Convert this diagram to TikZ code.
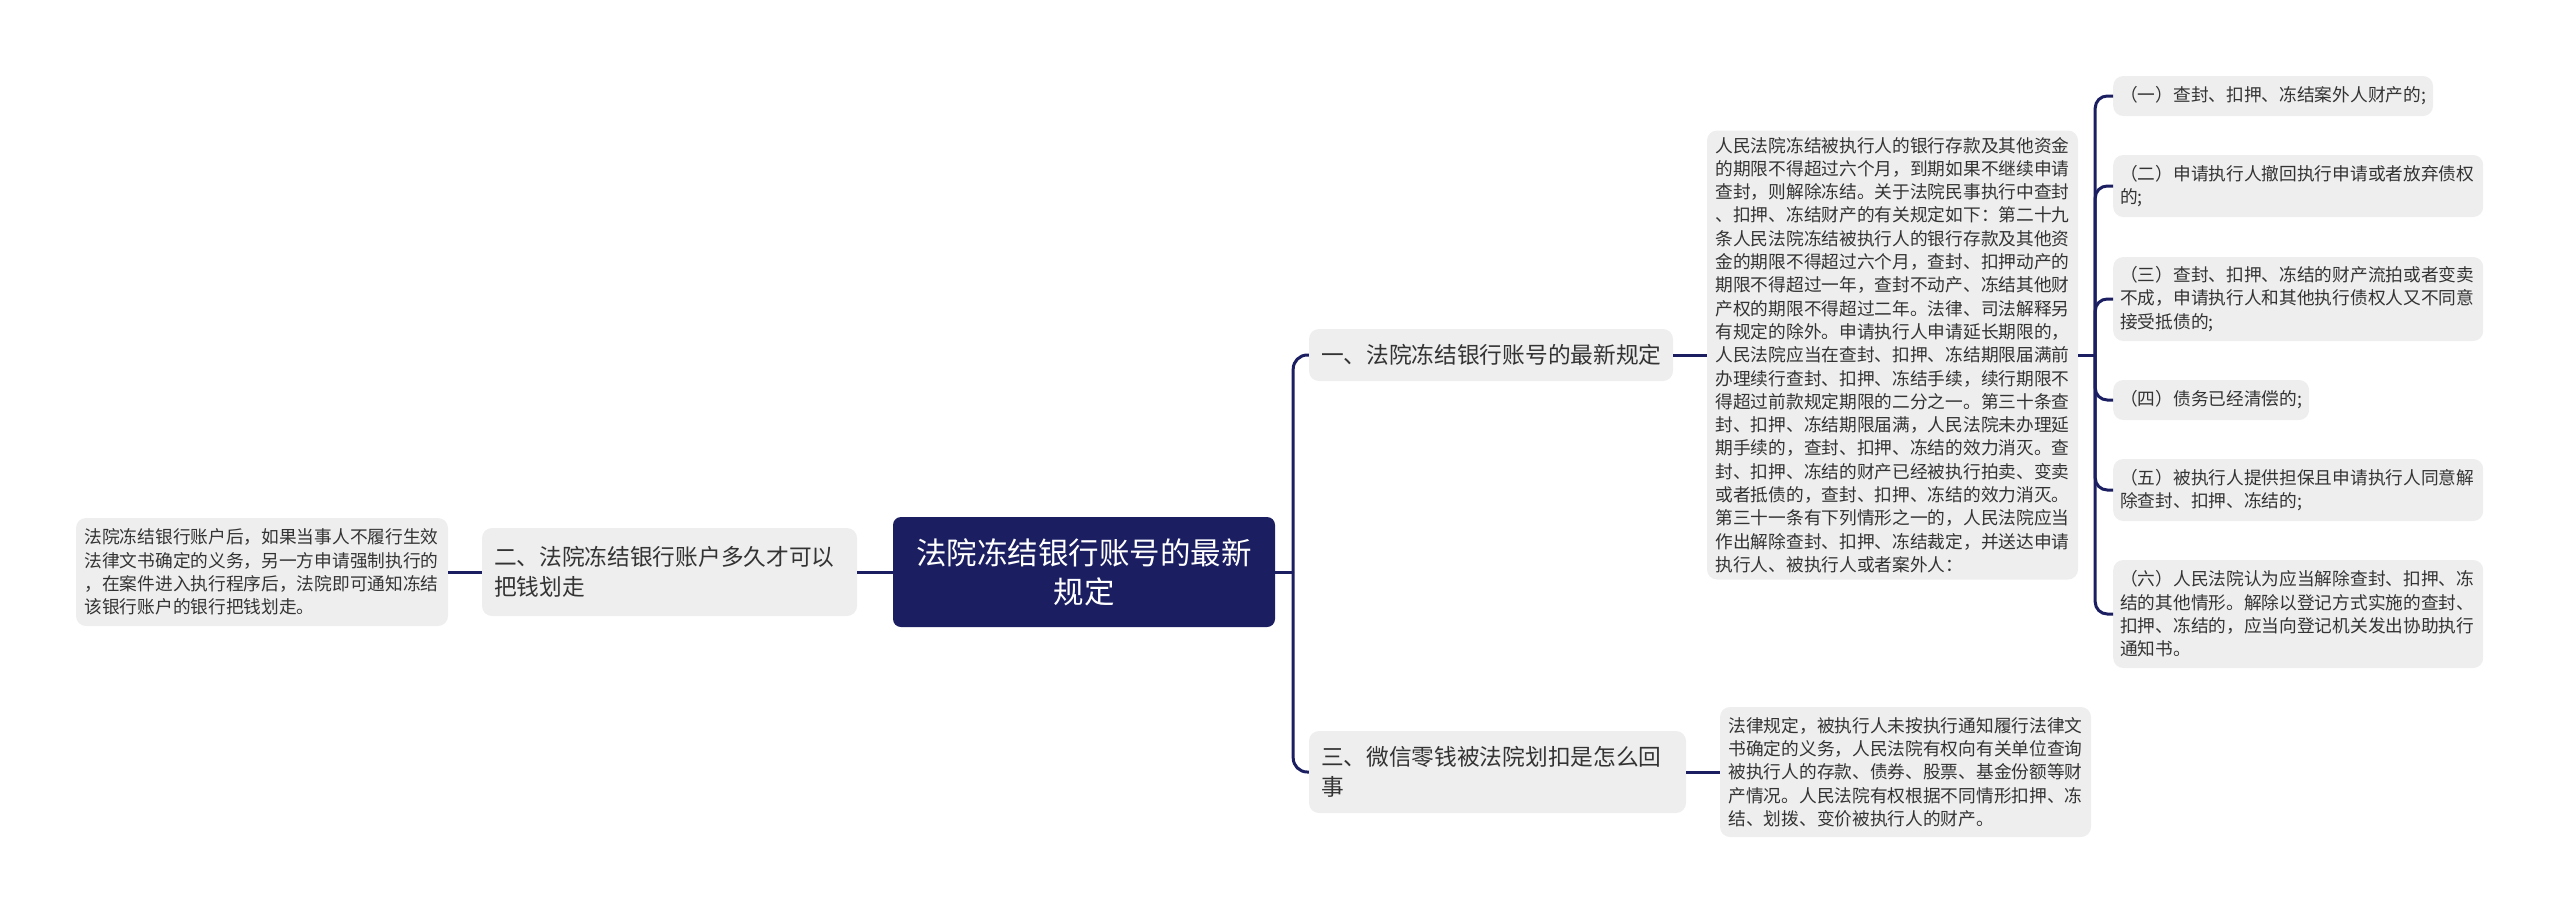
\documentclass[tikz,border=0pt]{standalone}
\usepackage{fontspec}
\newfontfamily\cjk{Noto Sans CJK SC}
\definecolor{mapnavy}{RGB}{27,31,98}
\definecolor{boxgray}{RGB}{238,238,238}
\definecolor{textgray}{RGB}{51,51,51}
\usetikzlibrary{positioning,calc}
\tikzset{
  rootbox/.style={fill=mapnavy,text=white,rounded corners=8pt,align=center,
        font=\cjk\fontsize{30.5}{39}\selectfont},
  topicbox/.style={fill=boxgray,text=textgray,rounded corners=10pt,align=left,
        inner xsep=12pt,font=\cjk\fontsize{22.7}{30}\selectfont},
  notebox/.style={fill=boxgray,text=textgray,rounded corners=10pt,align=left,
        inner xsep=8.5pt,font=\cjk\fontsize{17.7}{23.3}\selectfont},
  itembox/.style={notebox,inner xsep=7pt,anchor=west},
  link/.style={draw=mapnavy,line width=3pt},
}

\begin{document}
\begin{tikzpicture}[x=1pt,y=-1pt]
  \useasboundingbox (0,0) rectangle (2560,914);

  % Root node
  \node[rootbox,minimum width=382,minimum height=110] (root) at (1084,572)
        {法院冻结银行账号的最新\\规定};

  % Topic nodes
  \node[topicbox,text width=340,minimum height=52] (t1) at (1491,355)
        {一、法院冻结银行账号的最新规定};
  \node[topicbox,text width=351,minimum height=88] (t2) at (669.5,572)
        {二、法院冻结银行账户多久才可以\\把钱划走};
  \node[topicbox,text width=353,minimum height=82] (t3) at (1497.5,772)
        {三、微信零钱被法院划扣是怎么回\\事};

  % Note nodes
  \node[notebox,text width=354,minimum height=449] (note1) at (1892.5,355)
        {人民法院冻结被执行人的银行存款及其他资金\\
         的期限不得超过六个月，到期如果不继续申请\\
         查封，则解除冻结。关于法院民事执行中查封\\
         、扣押、冻结财产的有关规定如下：第二十九\\
         条人民法院冻结被执行人的银行存款及其他资\\
         金的期限不得超过六个月，查封、扣押动产的\\
         期限不得超过一年，查封不动产、冻结其他财\\
         产权的期限不得超过二年。法律、司法解释另\\
         有规定的除外。申请执行人申请延长期限的，\\
         人民法院应当在查封、扣押、冻结期限届满前\\
         办理续行查封、扣押、冻结手续，续行期限不\\
         得超过前款规定期限的二分之一。第三十条查\\
         封、扣押、冻结期限届满，人民法院未办理延\\
         期手续的，查封、扣押、冻结的效力消灭。查\\
         封、扣押、冻结的财产已经被执行拍卖、变卖\\
         或者抵债的，查封、扣押、冻结的效力消灭。\\
         第三十一条有下列情形之一的，人民法院应当\\
         作出解除查封、扣押、冻结裁定，并送达申请\\
         执行人、被执行人或者案外人：};
  \node[notebox,text width=355,minimum height=108] (note2) at (262,572)
        {法院冻结银行账户后，如果当事人不履行生效\\
         法律文书确定的义务，另一方申请强制执行的\\
         ，在案件进入执行程序后，法院即可通知冻结\\
         该银行账户的银行把钱划走。};
  \node[notebox,text width=354,minimum height=130] (note3) at (1905.5,772)
        {法律规定，被执行人未按执行通知履行法律文\\
         书确定的义务，人民法院有权向有关单位查询\\
         被执行人的存款、债券、股票、基金份额等财\\
         产情况。人民法院有权根据不同情形扣押、冻\\
         结、划拨、变价被执行人的财产。};

  % Item nodes
  \node[itembox,minimum height=40] (i1) at (2113,96)
        {（一）查封、扣押、冻结案外人财产的;};
  \node[itembox,text width=356,minimum height=62] (i2) at (2113,186)
        {（二）申请执行人撤回执行申请或者放弃债权\\的;};
  \node[itembox,text width=356,minimum height=84] (i3) at (2113,299)
        {（三）查封、扣押、冻结的财产流拍或者变卖\\
         不成，申请执行人和其他执行债权人又不同意\\
         接受抵债的;};
  \node[itembox,minimum height=40] (i4) at (2113,400)
        {（四）债务已经清偿的;};
  \node[itembox,text width=356,minimum height=62] (i5) at (2113,490)
        {（五）被执行人提供担保且申请执行人同意解\\除查封、扣押、冻结的;};
  \node[itembox,text width=356,minimum height=108] (i6) at (2113,614)
        {（六）人民法院认为应当解除查封、扣押、冻\\
         结的其他情形。解除以登记方式实施的查封、\\
         扣押、冻结的，应当向登记机关发出协助执行\\
         通知书。};

  % Connectors
  \coordinate (hub1) at ([xshift=18pt]root.east);
  \coordinate (hub2) at ([xshift=17pt]note1.east);
  \draw[link] (root.east) -- (hub1);
  \draw[link,rounded corners=14pt] (hub1) |- (t1.west);
  \draw[link,rounded corners=14pt] (hub1) |- (t3.west);
  \draw[link] (root.west) -- (t2.east);
  \draw[link] (t2.west) -- (note2.east);
  \draw[link] (t1.east) -- (note1.west);
  \draw[link] (t3.east) -- (note3.west);
  \draw[link] (note1.east) -- (hub2);
  \foreach \i in {i1,i2,i3,i4,i5,i6}
    \draw[link,rounded corners=12pt] (hub2) |- (\i.west);
\end{tikzpicture}
\end{document}
